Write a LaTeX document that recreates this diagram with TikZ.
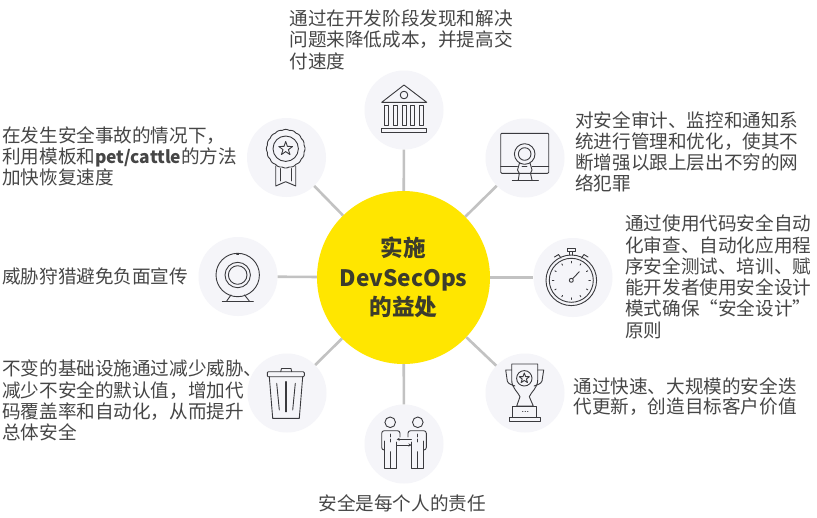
\documentclass[tikz,border=0pt]{standalone}
\usepackage{fontspec}
\setmainfont{Noto Sans CJK SC}
\usetikzlibrary{arrows.meta}
\definecolor{hubyellow}{HTML}{FFE600}
\definecolor{disc}{HTML}{F5F5F9}
\definecolor{linkgray}{HTML}{C2C2C2}
\definecolor{ink}{HTML}{464646}
\definecolor{hubink}{HTML}{3C3C2C}
\definecolor{icon}{HTML}{3A3A3E}
\tikzset{
  hub/.style={circle,fill=hubyellow,minimum size=173pt,inner sep=0pt,align=center,text=hubink,font=\fontsize{22.6}{29.4}\selectfont\bfseries},
  iconDisc/.style={circle,fill=disc,minimum size=79pt,inner sep=0pt},
  link/.style={draw=linkgray,line width=2.6pt},
  caption/.style={anchor=north west,align=left,inner sep=0pt,text=ink,font=\fontsize{18.6}{21}\selectfont},
  captionB/.style={caption,font=\fontsize{18.6}{21.3}\selectfont},
  captionC/.style={caption,font=\fontsize{18.6}{20.2}\selectfont},
  ico/.style={draw=icon,line width=0.9pt,line join=round,line cap=round}
}
\begin{document}
\begin{tikzpicture}[x=1pt,y=-1pt]
\useasboundingbox (0,0) rectangle (817,517);
\fill[white] (0,0) rectangle (817,517);
% discs
\node[hub] (h) at (403.5,277.5) {实施\\DevSecOps\\的益处};
\node[iconDisc] (bank) at (404,110) {};
\node[iconDisc] (monitor) at (525,158) {};
\node[iconDisc] (watch) at (573,277.5) {};
\node[iconDisc] (trophy) at (525,393) {};
\node[iconDisc] (people) at (404,444) {};
\node[iconDisc] (trash) at (287,393) {};
\node[iconDisc] (cam) at (238,276.5) {};
\node[iconDisc] (medal) at (286.5,157.5) {};
% connectors
\foreach \n in {bank,monitor,watch,trophy,people,trash,cam,medal}
  \draw[link] (h) -- (\n);
% captions
\node[captionB] (t1) at (289.3,9.5) {通过在开发阶段发现和解决\\问题来降低成本，并提高交\\付速度};
\node[caption] (t2) at (575,111.7) {对安全审计、监控和通知系\\统进行管理和优化，使其不\\断增强以跟上层出不穷的网\\络犯罪};
\node[captionB] (t3) at (625,214.7) {通过使用代码安全自动\\化审查、自动化应用程\\序安全测试、培训、赋\\能开发者使用安全设计\\模式确保“安全设计”\\原则};
\node[captionC] (t4) at (573.3,377.4) {通过快速、大规模的安全迭\\代更新，创造目标客户价值};
\node[caption] (t5) at (318.3,494) {安全是每个人的责任};
\node[captionB] (t6) at (2,360) {不变的基础设施通过减少威胁、\\减少不安全的默认值，增加代\\码覆盖率和自动化，从而提升\\总体安全};
\node[caption] (t7) at (2,268) {威胁狩猎避免负面宣传};
\node[caption] (t8) at (2,126.7) {在发生安全事故的情况下，\\利用模板和{\fontsize{17.4}{21}\selectfont\bfseries pet/cattle}的方法\\加快恢复速度};
% bank icon
\draw[ico] (381.7,102.3) -- (404,85) -- (426.7,102.3) -- cycle;
\draw[ico] (404,95) circle (3.8);
\foreach \a in {384.3,393.3,402.3,410.5,419.3}
  \draw[ico] (\a,105) rectangle ++(4.2,20.7);
\draw[ico] (381.7,128.3) rectangle (426.7,132.3);
% medal icon
\draw[ico] plot[domain=0:360,samples=145,smooth] ({285.7+(18.6+0.7*abs(cos(8*\x)))*cos(\x)},{148.7+(18.6+0.7*abs(cos(8*\x)))*sin(\x)});
\draw[ico] (285.7,148.7) circle (12.7);
\draw[ico] (285.7,141.5) -- (287.4,146.4) -- (292.6,146.5) -- (288.4,149.6) -- (290,154.6) -- (285.7,151.6) -- (281.4,154.6) -- (283,149.6) -- (278.8,146.5) -- (284,146.4) -- cycle;
\draw[ico] (275.7,166) -- (275.7,186) -- (285.7,181.7) -- (295.7,186) -- (295.7,166);
\draw[ico] (280,168.5) -- (280,181) (291.3,168.5) -- (291.3,181);
% monitor icon
\draw[ico,rounded corners=1pt] (500.7,133.3) rectangle (548.7,173.3);
\draw[ico] (500.7,166.7) -- (517.5,166.7) (522,166.7) -- (527,166.7) (532,166.7) -- (548.7,166.7);
\draw[ico] (524.7,154) circle (10.3) (524.7,154) circle (6.3);
\draw[ico] (519.5,163) -- (517.5,170) -- (519.3,173.3) -- (518.3,180);
\draw[ico] (530,163) -- (532,170) -- (530.5,173.3) -- (532,180);
\draw[ico] (512.3,180) -- (538.3,180);
% stopwatch icon
\draw[ico] (571.3,280.3) circle (25.3) (571.3,280.3) circle (22);
\draw[ico] (567.7,248.7) rectangle (575.3,251.7);
\draw[ico] (569.8,251.7) -- (569.8,255) (572.8,251.7) -- (572.8,255);
\draw[ico] (554.5,257) -- (558.5,254.5) -- (561,258);
\draw[ico] (581.5,258) -- (584,254.5) -- (588,257);
\foreach \a in {0,30,...,330}
  \draw[ico] ({571.3+17.5*cos(\a)},{280.3+17.5*sin(\a)}) -- ({571.3+19*cos(\a)},{280.3+19*sin(\a)});
\draw[ico] (571.3,280.3) circle (2);
\draw[ico] (572.6,278.7) -- (579.3,271.7);
% trophy icon
\draw[ico] (511.7,364) -- (537.7,364) -- (537.7,380) .. controls (537.7,388) and (531,392) .. (529.3,396.7) -- (533.3,406) -- (516.7,406) -- (520,396.7) .. controls (518,392) and (511.7,388) .. (511.7,380) -- cycle;
\draw[ico] (524.3,378.3) circle (7.7);
\draw[ico] (524.3,373) -- (525.6,376.6) -- (529.4,376.7) -- (526.4,379) -- (527.5,382.6) -- (524.3,380.5) -- (521.1,382.6) -- (522.2,379) -- (519.2,376.7) -- (523,376.6) -- cycle;
\draw[ico] (511.7,370) -- (505.7,370) -- (507.3,381) .. controls (508,384) and (512,385) .. (515,386);
\draw[ico] (537.7,370) -- (543.7,370) -- (542,381) .. controls (541,384) and (537,385) .. (534,386);
\draw[ico] (512.7,406) rectangle (536.7,417.3);
\draw[ico] (509.3,417.3) rectangle (540,421.3);
\draw[ico] (522.5,411.7) -- (523,411.7) (525,411.7) -- (525.5,411.7) (527.5,411.7) -- (528,411.7);
% people icon
\foreach \m/\s in {0/1,808/-1}{
  \begin{scope}[shift={(\m,0)},xscale=\s]
  \draw[ico] (390.2,422.3) circle (5.3);
  \draw[ico,rounded corners=2.5pt] (384.5,450) -- (381.7,450) -- (381.7,430.7) -- (400,430.7) -- (400,437);
  \draw[ico] (396.7,442) -- (396.7,468.3) -- (384.5,468.3) -- (384.5,441);
  \draw[ico] (390.4,451.7) -- (390.4,468.3);
  \draw[ico,densely dashed] (390.2,434) -- (390.2,442);
  \end{scope}}
\draw[ico,-{Stealth[length=3pt,width=3pt]}] (411.5,439.3) -- (396.7,439.3);
\draw[ico,-{Stealth[length=3pt,width=3pt]}] (396.7,445) -- (411.5,445);
% trash icon
\draw[ico,rounded corners=1pt] (267.3,371.7) rectangle (304.3,376.7);
\draw[ico] (280.7,371.7) -- (281.5,368.5) -- (291,368.5) -- (291.7,371.7);
\draw[ico] (269.3,376.7) -- (272.7,418.3) -- (299.3,418.3) -- (302.7,376.7);
\draw[ico,line width=1.4pt] (286,381.7) -- (286,411.7);
\draw[ico] (276.7,383.3) -- (279.3,410) (295.3,383.3) -- (292.7,410);
% webcam icon
\draw[ico] (237.7,275) circle (21.7) (237.7,275) circle (12.7) (237.7,275) circle (9.3);
\draw[ico] (236.7,254) -- (238.7,254);
\draw[ico] (231,295) -- (226.7,301) (244.5,295) -- (249.3,301);
\draw[ico] (222.3,301) -- (253.3,301);
\end{tikzpicture}
\end{document}
